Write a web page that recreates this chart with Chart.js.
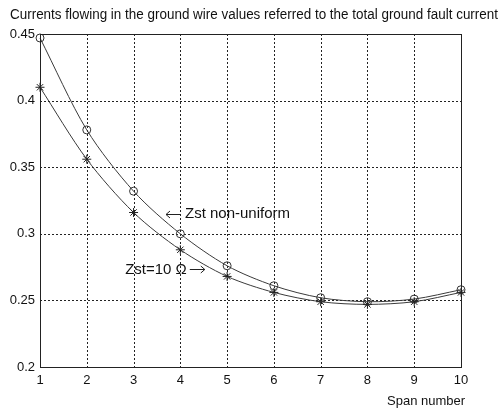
<!DOCTYPE html>
<html>
<head>
<meta charset="utf-8">
<script src="https://cdn.jsdelivr.net/npm/chart.js@4/dist/chart.umd.min.js"></script>
<style>
  html, body { margin: 0; padding: 0; background: #ffffff; }
  #wrap { width: 503px; height: 409px; }
</style>
</head>
<body>
<div id="wrap"><canvas id="chart" width="503" height="409"></canvas></div>
<script>
// === Data ===
const spans = [1, 2, 3, 4, 5, 6, 7, 8, 9, 10];
const nonUniform = [0.447, 0.378, 0.332, 0.300, 0.276, 0.261, 0.252, 0.249, 0.251, 0.258];  // circles
const zst10 = [0.410, 0.356, 0.316, 0.288, 0.268, 0.256, 0.249, 0.247, 0.249, 0.256];       // stars
const yTicks = [0.2, 0.25, 0.3, 0.35, 0.4, 0.45];

const titleText = 'Currents flowing in the ground wire values referred to the total ground fault current';
const xAxisText = 'Span number';

const FONT = 'Liberation Sans, Arial, sans-serif';

// labels placed in data coordinates, arrow on the left or right side
const notes = [
  { text: 'Zst non-uniform', x: 4.10, y: 0.3148, arrow: 'left' },
  { text: 'Zst=10 \u03A9', x: 2.82, y: 0.2733, arrow: 'right' }
];

function drawArrow(ctx, x0, x1, y) {
  // arrow from x0 pointing to x1
  const dir = Math.sign(x1 - x0);
  ctx.beginPath();
  ctx.moveTo(x0, y);
  ctx.lineTo(x1, y);
  ctx.moveTo(x1 - dir * 4, y - 3.5);
  ctx.lineTo(x1, y);
  ctx.lineTo(x1 - dir * 4, y + 3.5);
  ctx.stroke();
}

// dotted grid under the curves
const dottedGrid = {
  id: 'dottedGrid',
  beforeDatasetsDraw(chart) {
    const ctx = chart.ctx;
    const a = chart.chartArea;
    const xs = chart.scales.x, ys = chart.scales.y;
    ctx.save();
    ctx.strokeStyle = '#222';
    ctx.lineWidth = 1;
    ctx.setLineDash([2, 2]);
    ctx.beginPath();
    spans.forEach(v => {
      const px = Math.round(xs.getPixelForValue(v)) + 0.5;
      ctx.moveTo(px, a.top);
      ctx.lineTo(px, a.bottom);
    });
    yTicks.forEach(v => {
      const py = Math.round(ys.getPixelForValue(v)) + 0.5;
      ctx.moveTo(a.left, py);
      ctx.lineTo(a.right, py);
    });
    ctx.stroke();
    ctx.restore();
  }
};

// title, axis label, frame and annotations
const extras = {
  id: 'extras',
  afterDraw(chart) {
    const ctx = chart.ctx;
    const a = chart.chartArea;
    const xs = chart.scales.x, ys = chart.scales.y;
    ctx.save();
    ctx.fillStyle = '#111';
    ctx.textBaseline = 'middle';
    ctx.textAlign = 'left';
    ctx.font = '14px ' + FONT;
    ctx.fillText(titleText, 10, 15, 488);

    ctx.font = '13px ' + FONT;
    ctx.fillText(xAxisText, 387, 401, 79);

    ctx.font = '15px ' + FONT;
    ctx.strokeStyle = '#222';
    ctx.lineWidth = 1;
    notes.forEach(n => {
      const px = xs.getPixelForValue(n.x), py = ys.getPixelForValue(n.y);
      const w = ctx.measureText(n.text).width;
      if (n.arrow === 'left') {
        drawArrow(ctx, px - 4, px - 19, Math.round(py) + 0.5);
        ctx.fillText(n.text, px, py);
      } else {
        ctx.fillText(n.text, px, py);
        drawArrow(ctx, px + w + 3, px + w + 18, Math.round(py) + 0.5);
      }
    });

    // box round the plot
    ctx.strokeStyle = '#222';
    ctx.setLineDash([]);
    ctx.strokeRect(Math.round(a.left) + 0.5, Math.round(a.top) + 0.5,
      Math.round(a.right - a.left), Math.round(a.bottom - a.top));
    ctx.restore();
  }
};

new Chart(document.getElementById('chart'), {
  type: 'line',
  data: {
    datasets: [
      {
        label: 'Zst non-uniform',
        data: spans.map((s, i) => ({ x: s, y: nonUniform[i] })),
        borderColor: '#3a3a3a',
        borderWidth: 1,
        tension: 0.3,
        clip: false,
        pointStyle: 'circle',
        pointRadius: 4,
        pointBorderColor: '#333',
        pointBackgroundColor: 'rgba(0,0,0,0)',
        pointBorderWidth: 1
      },
      {
        label: 'Zst=10',
        data: spans.map((s, i) => ({ x: s, y: zst10[i] })),
        borderColor: '#3a3a3a',
        borderWidth: 1,
        tension: 0.3,
        clip: false,
        pointStyle: 'star',
        pointRadius: 4.5,
        pointBorderColor: '#222',
        pointBackgroundColor: 'rgba(0,0,0,0)',
        pointBorderWidth: 1
      }
    ]
  },
  options: {
    responsive: false,
    animation: false,
    events: [],
    layout: { padding: { top: 34, right: 42, bottom: 0, left: 0 } },
    plugins: {
      legend: { display: false },
      tooltip: { enabled: false }
    },
    scales: {
      x: {
        type: 'linear',
        min: 1,
        max: 10,
        afterBuildTicks: scale => { scale.ticks = spans.map(v => ({ value: v })); },
        afterFit: scale => { scale.height = 42; },
        border: { display: false },
        grid: { display: false, drawTicks: false },
        ticks: {
          color: '#111',
          padding: 6,
          maxRotation: 0,
          font: { family: FONT, size: 13 }
        }
      },
      y: {
        min: 0.2,
        max: 0.45,
        afterBuildTicks: scale => { scale.ticks = yTicks.map(v => ({ value: v })); },
        afterFit: scale => { scale.width = 40; },
        border: { display: false },
        grid: { display: false, drawTicks: false },
        ticks: {
          color: '#111',
          padding: 5,
          font: { family: FONT, size: 13 },
          callback: v => String(Number(v.toFixed(2)))
        }
      }
    }
  },
  plugins: [dottedGrid, extras]
});
</script>
</body>
</html>
